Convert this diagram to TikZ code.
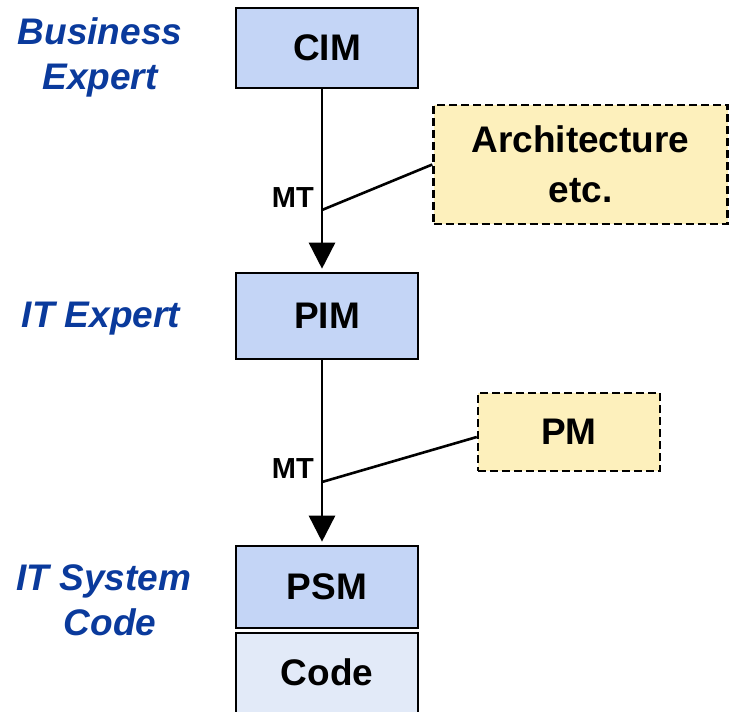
\documentclass[tikz,border=0pt]{standalone}
\usepackage{fontspec}
\setmainfont{Liberation Sans}
\usetikzlibrary{arrows.meta}
\definecolor{lblblue}{HTML}{0A3A9C}
\definecolor{boxblue}{HTML}{C4D5F6}
\definecolor{boxyellow}{HTML}{FDF0BC}
\definecolor{codeblue}{HTML}{E2EAF8}
\tikzset{
  modelbox/.style={draw=black, line width=2.6pt, fill=boxblue, minimum width=182pt, minimum height=80pt, inner sep=0pt, font=\fontsize{37}{40}\selectfont\bfseries},
  codebox/.style={modelbox, fill=codeblue},
  inputbox/.style={draw=black, line width=2.4pt, dash pattern=on 8pt off 4pt, fill=boxyellow, inner sep=0pt, font=\fontsize{37}{50}\selectfont\bfseries, align=center},
  rolelbl/.style={text=lblblue, font=\fontsize{37}{45}\selectfont\bfseries\itshape, align=center, inner sep=0pt},
  mtlbl/.style={font=\fontsize{29}{32}\selectfont\bfseries, inner sep=0pt},
  flow/.style={line width=2.6pt, -{Triangle[length=26pt,width=26pt]}, shorten >=3pt},
  linkline/.style={line width=2.6pt}
}
\begin{document}
\begin{tikzpicture}[x=1pt,y=-1pt]
\useasboundingbox (0,0) rectangle (729,712);
\clip (0,0) rectangle (729,712);
% model boxes
\node[modelbox] (cim) at (327,48) {CIM};
\node[modelbox, minimum height=86pt] (pim) at (327,316) {PIM};
\node[modelbox, minimum height=82pt] (psm) at (327,587) {PSM};
\node[codebox, minimum height=90pt] (code) at (327,678) {};
\node[font=\fontsize{37}{40}\selectfont\bfseries] (codetxt) at (327,672) {Code};
% input boxes
\node[inputbox, minimum width=294pt, minimum height=119pt] (arch) at (580.5,164.5) {Architecture\\etc.};
\node[inputbox, minimum width=182pt, minimum height=78pt] (pm) at (569,432) {PM};
% role labels
\node[rolelbl] (business) at (100,57) {Business\\Expert};
\node[rolelbl] (itexp) at (101,319) {IT Expert};
\node[rolelbl] (itsys) at (104,600) {IT System\\\hspace*{12pt}Code};
% join points
\coordinate (j1) at (322,210);
\coordinate (j2) at (322,482);
% flows
\draw[flow] (cim.south -| j1) -- (pim.north -| j1);
\draw[flow] (pim.south -| j1) -- (psm.north -| j1);
\draw[linkline] (j1) -- (arch.west);
\draw[linkline] (j2) -- ([yshift=-5pt]pm.west);
% MT labels
\node[mtlbl, anchor=east] (mt1) at (314,198) {MT};
\node[mtlbl, anchor=east] (mt2) at (314,469) {MT};
\end{tikzpicture}
\end{document}
